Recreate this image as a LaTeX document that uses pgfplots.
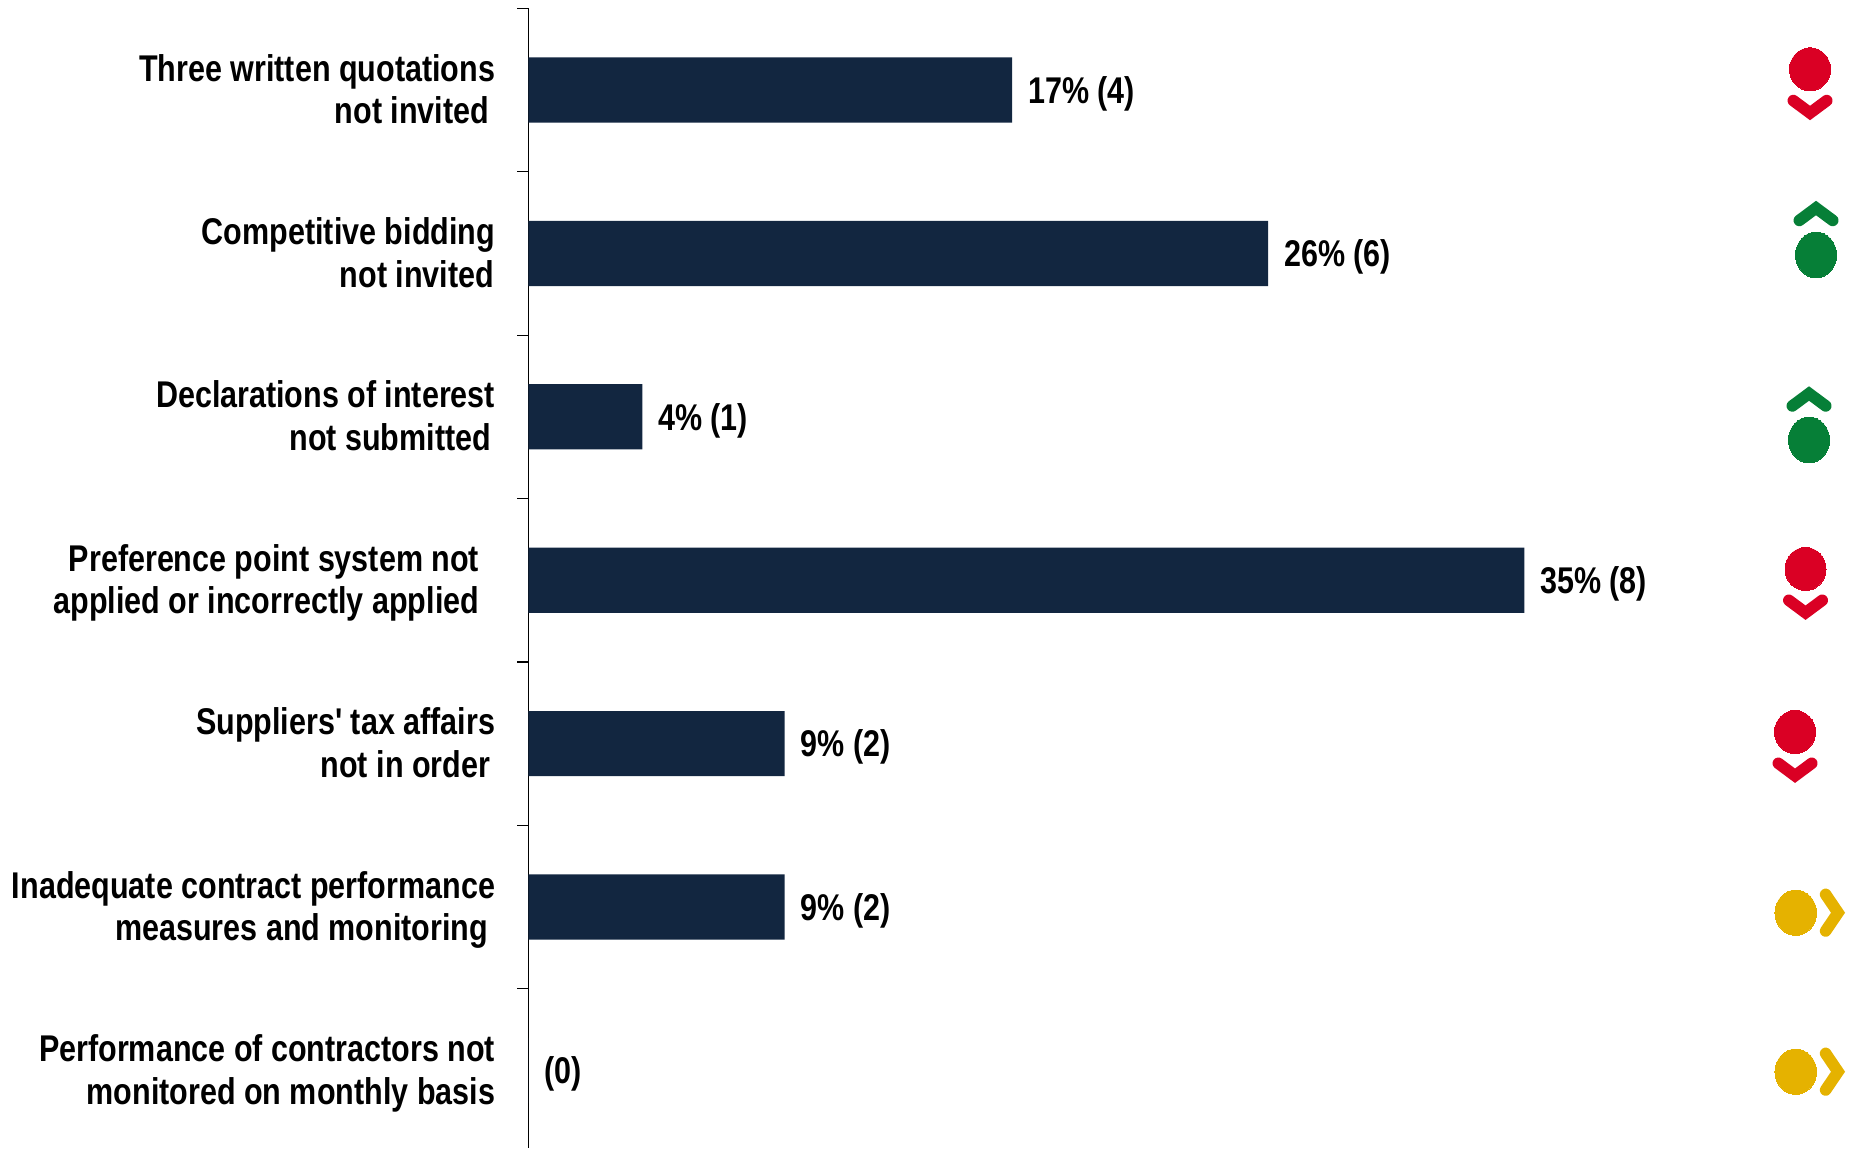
\documentclass[border=0pt]{standalone}
\usepackage{pgfplots}
\pgfplotsset{compat=1.18}
\usepackage{pgfplotstable}
\usepackage{fontspec}
\newfontfamily\chartfont{Liberation Sans}[FakeStretch=0.82]
\definecolor{barnavy}{HTML}{122640}
\definecolor{statusred}{HTML}{DA0024}
\definecolor{statusgreen}{HTML}{067F37}
\definecolor{statusamber}{HTML}{E5B200}

% Direction arrows of the status column, origin at the bend of the stroke
\pgfdeclareplotmark{chevdown}{%
  \pgfsetlinewidth{5.8pt}\pgfsetroundcap\pgfsetmiterjoin
  \pgfpathmoveto{\pgfqpoint{-8.35pt}{6.2pt}}
  \pgfpathlineto{\pgfqpoint{0pt}{0pt}}
  \pgfpathlineto{\pgfqpoint{8.35pt}{6.2pt}}
  \pgfusepathqstroke}
\pgfdeclareplotmark{chevup}{%
  \pgfsetlinewidth{5.8pt}\pgfsetroundcap\pgfsetmiterjoin
  \pgfpathmoveto{\pgfqpoint{-8.35pt}{-6.2pt}}
  \pgfpathlineto{\pgfqpoint{0pt}{0pt}}
  \pgfpathlineto{\pgfqpoint{8.35pt}{-6.2pt}}
  \pgfusepathqstroke}
\pgfdeclareplotmark{chevright}{%
  \pgfsetlinewidth{5.8pt}\pgfsetroundcap\pgfsetmiterjoin
  \pgfpathmoveto{\pgfqpoint{-6.2pt}{9.15pt}}
  \pgfpathlineto{\pgfqpoint{0pt}{0pt}}
  \pgfpathlineto{\pgfqpoint{-6.2pt}{-9.15pt}}
  \pgfusepathqstroke}

\pgfplotstableread[col sep=comma]{
pos,share,label
0,17,17\% (4)
1,26,26\% (6)
2,4,4\% (1)
3,35,35\% (8)
4,9,9\% (2)
5,9,9\% (2)
6,0,(0)
}\findings

\begin{document}
\begin{tikzpicture}[x=0.5pt,y=0.5pt]
\useasboundingbox (0,0) rectangle (1854,1148);
\begin{axis}[
  at={(264.25pt,0pt)}, anchor=south west,
  scale only axis, width=662.75pt, height=569.85pt,
  xmin=0, xmax=46.59, ymin=-0.5, ymax=6.475,
  y dir=reverse,
  axis y line=left, axis x line=none,
  axis line style={-, line width=0.75pt, black},
  ytick={0,1,2,3,4,5,6},
  yticklabels={
    {\strut Three written quotations\\\strut not invited\hspace*{3pt}},
    {\strut Competitive bidding\\\strut not invited\hspace*{0.5pt}},
    {\strut Declarations of interest\\\strut not submitted\hspace*{2pt}},
    {\strut Preference point system not\hspace*{8pt}\\\strut applied or incorrectly applied\hspace*{8pt}},
    {\strut Suppliers' tax affairs\\\strut not in order\hspace*{2.5pt}},
    {\strut Inadequate contract performance\\\strut measures and monitoring\hspace*{3.5pt}},
    {\strut Performance of contractors not\\\strut monitored on monthly basis}},
  major tick length=0pt,
  yticklabel style={align=right, font=\chartfont\bfseries\fontsize{18.6}{21.3}\selectfont,
    inner xsep=0pt, inner ysep=0pt, xshift=-16.5pt, yshift=-1.9pt},
  extra y ticks={-0.5,0.5,1.5,2.5,3.5,4.5,5.5},
  extra y tick labels={},
  extra y tick style={major tick length=5.5pt, tick align=outside,
    tick style={line width=0.6pt, black}},
  clip=false,
]
\addplot[xbar, bar width=32.6pt, bar shift=0pt, fill=barnavy, draw=none,
  point meta=explicit symbolic,
  nodes near coords,
  nodes near coords align={anchor=west},
  every node near coord/.append style={font=\chartfont\bfseries\fontsize{18.6}{21}\selectfont,
    black, inner xsep=0pt, xshift=7.8pt, yshift=-1.8pt},
] table[col sep=comma, x=share, y=pos, meta=label] {\findings};
\end{axis}

% Status column, positioned in page coordinates
\begin{axis}[
  at={(0pt,0pt)}, anchor=south west,
  scale only axis, width=927pt, height=574pt,
  xmin=0, xmax=1854, ymin=0, ymax=1148, y dir=reverse,
  hide axis, clip=false,
]
\addplot[only marks, mark=*, mark size=10.25pt,
  mark options={fill=statusred, draw=statusred, line width=0pt, yscale=1.05}]
  coordinates {(1810,69.3) (1805.5,569) (1795,732)};
\addplot[only marks, mark=*, mark size=10.25pt,
  mark options={fill=statusgreen, draw=statusgreen, line width=0pt, yscale=1.12}]
  coordinates {(1816,255) (1809,440)};
\addplot[only marks, mark=*, mark size=10.4pt,
  mark options={fill=statusamber, draw=statusamber, line width=0pt, yscale=1.09}]
  coordinates {(1795.7,912.7) (1795.7,1071.7)};
\addplot[only marks, mark=chevdown, statusred,
  mark options={draw=statusred}]
  coordinates {(1810,113) (1805.5,612.7) (1795,775.7)};
\addplot[only marks, mark=chevup, statusgreen,
  mark options={draw=statusgreen}]
  coordinates {(1816,208) (1809,393.5)};
\addplot[only marks, mark=chevright, statusamber,
  mark options={draw=statusamber}]
  coordinates {(1838,912.7) (1838,1071.7)};
\end{axis}
\end{tikzpicture}
\end{document}
